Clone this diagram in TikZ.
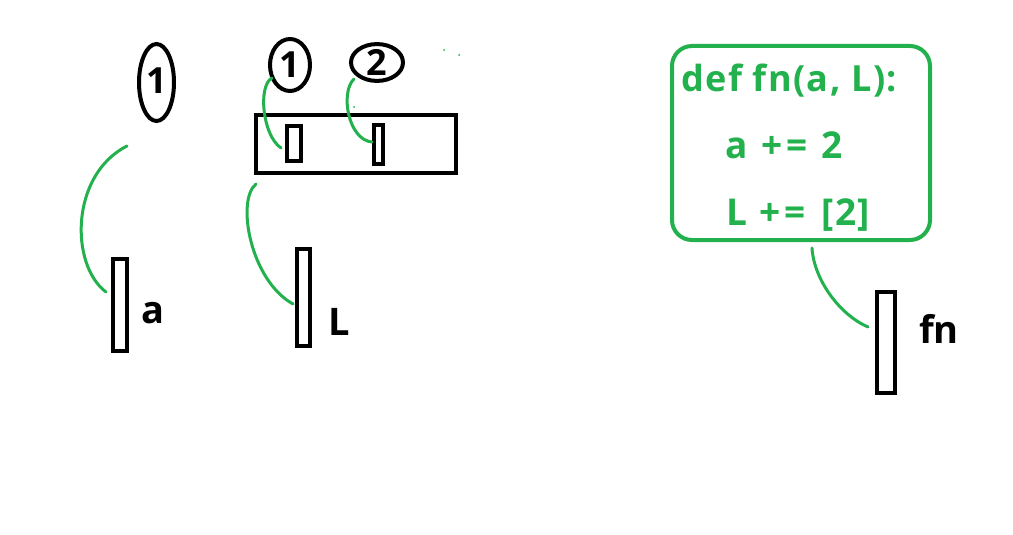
\documentclass[tikz,border=0pt]{standalone}
\usepackage{fontspec}
\setmainfont{Open Sans}
\newfontfamily\codefont{Open Sans}[LetterSpace=4]
\usetikzlibrary{shapes.geometric}
\definecolor{pgreen}{HTML}{22B14C}
\tikzset{
  x=1pt, y=-1pt,
  blk/.style={draw=black, line width=4pt, inner sep=0pt},
  oval/.style={blk, ellipse, font=\fontsize{36}{40}\selectfont\bfseries},
  cell/.style={blk, rectangle},
  lbl/.style={inner sep=0pt, anchor=base west, font=\fontsize{38}{44}\selectfont\bfseries},
  code/.style={inner sep=0pt, anchor=base west, text=pgreen, font=\codefont\fontsize{37}{44}\selectfont\bfseries},
  link/.style={draw=pgreen, line width=3pt, line cap=round},
  gbox/.style={draw=pgreen, line width=4pt, rounded corners=20pt, inner sep=0pt},
}
\begin{document}
\begin{tikzpicture}
\useasboundingbox[fill=white] (0,0) rectangle (1013,535);

% left: a
\node[oval, minimum width=35pt, minimum height=77pt] (o1) at (156.5,82.5) {\raisebox{4pt}{1}};
\node[cell, minimum width=14pt, minimum height=92pt] (ra) at (120,305) {};
\node[lbl] (la) at (141,323) {a};
\coordinate (a0) at (127,146);
\coordinate (a1) at (106,292);
\draw[link] (a0) .. controls (70,175) and (70,265) .. (a1);

% middle: L
\node[oval, minimum width=40pt, minimum height=52pt] (o2) at (290,65) {1};
\node[oval, minimum width=52pt, minimum height=35pt] (o3) at (377,62.5) {\raisebox{-3pt}{2}};
\node[cell, minimum width=200pt, minimum height=58pt] (big) at (356,144) {};
\node[cell, minimum width=14pt, minimum height=35pt] (s1) at (294,143.5) {};
\node[cell, minimum width=9pt, minimum height=39pt] (s2) at (378.5,144.5) {};
\node[cell, minimum width=13pt, minimum height=97pt] (rL) at (303.5,297.5) {};
\node[lbl] (lL) at (328,335) {L};
\coordinate (b0) at (272,78);
\coordinate (b1) at (281,148);
\draw[link] (b0) .. controls (258,85) and (262,135) .. (b1);
\coordinate (c0) at (354,79);
\coordinate (c1) at (372,142);
\draw[link] (c0) .. controls (340,92) and (348,140) .. (c1);
\coordinate (d0) at (256,184);
\coordinate (d1) at (293,304);
\draw[link] (d0) .. controls (236,200) and (250,280) .. (d1);

% stray dots
\fill[pgreen] (444,50) circle (1pt);
\fill[pgreen] (459,55) circle (1pt);
\fill[pgreen] (354,107) circle (1pt);

% right: fn
\node[gbox, minimum width=258pt, minimum height=194pt] (box) at (801,143) {};
\node[code, font=\codefont\fontsize{36}{40}\selectfont\bfseries] (l1) at (681,92) {def fn(a, L):};
\node[code] (l2) at (725,158) {a\hspace{14pt}+\hspace{4pt}=\hspace{14pt}2};
\node[code] (l3) at (726,225) {L\hspace{12pt}+\hspace{4pt}=\hspace{16pt}[2]};
\node[cell, minimum width=18pt, minimum height=101pt] (rfn) at (886,342.5) {};
\node[lbl] (lfn) at (919,343) {fn};
\coordinate (e0) at (812,248);
\coordinate (e1) at (868,327);
\draw[link] (e0) .. controls (814,280) and (840,315) .. (e1);
\end{tikzpicture}
\end{document}
